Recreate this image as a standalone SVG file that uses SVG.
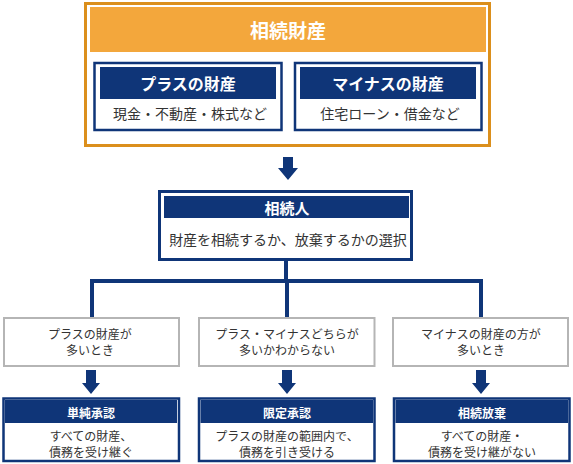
<svg xmlns="http://www.w3.org/2000/svg" width="573" height="464" viewBox="0 0 573 464">
<style>
text{font-family:"Noto Sans CJK JP","Noto Sans",sans-serif;text-anchor:middle;dominant-baseline:central}
.hd{fill:#ffffff;font-weight:bold}
.bd{fill:#333333}
.navybox{fill:#ffffff;stroke:#0f3578;stroke-width:2.5}
.navyhead{fill:#0f3578}
.gray{fill:#ffffff;stroke:#b5b5b5;stroke-width:2}
.line{fill:none;stroke:#0f3578;stroke-width:4}
.arrow{fill:#0f3578}
</style>
<rect width="573" height="464" fill="#ffffff"/>
<g id="inheritance">
<rect x="85.5" y="3.5" width="404" height="142" fill="#ffffff" stroke="#db8f1c" stroke-width="3"/>
<rect x="90" y="7" width="396" height="45" fill="#f3a73c"/>
<text x="288" y="29.5" class="hd" font-size="19">相続財産</text>
</g>
<g id="plus">
<rect x="94.5" y="63" width="187" height="67" class="navybox"/>
<rect x="100" y="67" width="176" height="32" class="navyhead"/>
<text x="188" y="83" class="hd" font-size="16">プラスの財産</text>
<text x="190" y="113" class="bd" font-size="14">現金・不動産・株式など</text>
</g>
<g id="minus">
<rect x="295" y="63" width="186.5" height="67" class="navybox"/>
<rect x="300" y="67" width="176" height="32" class="navyhead"/>
<text x="388" y="83" class="hd" font-size="16">マイナスの財産</text>
<text x="390" y="113" class="bd" font-size="14">住宅ローン・借金など</text>
</g>
<g id="heir">
<rect x="159.5" y="191.5" width="252" height="68" fill="#ffffff" stroke="#0f3578" stroke-width="3"/>
<rect x="164" y="196" width="245" height="22" class="navyhead"/>
<text x="287" y="207.5" class="hd" font-size="15">相続人</text>
<text x="288" y="239" class="bd" font-size="14">財産を相続するか、放棄するかの選択</text>
</g>
<g id="cond1">
<rect x="4" y="318" width="175" height="48" class="gray"/>
<text x="90" y="333" class="bd" font-size="12">プラスの財産が</text>
<text x="90" y="349" class="bd" font-size="12">多いとき</text>
</g>
<g id="cond2">
<rect x="199" y="318" width="175.5" height="48" class="gray"/>
<text x="287" y="333" class="bd" font-size="12">プラス・マイナスどちらが</text>
<text x="287" y="349" class="bd" font-size="12">多いかわからない</text>
</g>
<g id="cond3">
<rect x="393" y="318" width="175" height="48" class="gray"/>
<text x="481" y="333" class="bd" font-size="12">マイナスの財産の方が</text>
<text x="481" y="349" class="bd" font-size="12">多いとき</text>
</g>
<g id="result1">
<rect x="3.5" y="398.5" width="175.5" height="62.5" class="navybox"/>
<rect x="5" y="400" width="172" height="23" class="navyhead"/>
<text x="91" y="412" class="hd" font-size="12">単純承認</text>
<text x="91" y="435.5" class="bd" font-size="12">すべての財産、</text>
<text x="91" y="451.5" class="bd" font-size="12">債務を受け継ぐ</text>
</g>
<g id="result2">
<rect x="199" y="398.5" width="175.5" height="62.5" class="navybox"/>
<rect x="200.5" y="400" width="172.5" height="23" class="navyhead"/>
<text x="287" y="412" class="hd" font-size="12">限定承認</text>
<text x="287" y="435.5" class="bd" font-size="12">プラスの財産の範囲内で、</text>
<text x="287" y="451.5" class="bd" font-size="12">債務を引き受ける</text>
</g>
<g id="result3">
<rect x="394" y="398.5" width="175.5" height="62.5" class="navybox"/>
<rect x="395.5" y="400" width="172.5" height="23" class="navyhead"/>
<text x="482" y="412" class="hd" font-size="12">相続放棄</text>
<text x="482" y="435.5" class="bd" font-size="12">すべての財産・</text>
<text x="482" y="451.5" class="bd" font-size="12">債務を受け継がない</text>
</g>
<g id="connectors">
<polygon class="arrow" points="283,157 293,157 293,168 298,168 288,180 278,168 283,168"/>
<path class="line" d="M286,260 V281 M92,281 H481 M92,279 V317 M287,281 V317 M481,279 V317"/>
<polygon class="arrow" points="86,370 96,370 96,383 100,383 91,394 82,383 86,383"/>
<polygon class="arrow" points="282,370 292,370 292,383 296,383 287,394 278,383 282,383"/>
<polygon class="arrow" points="476,370 486,370 486,383 490,383 481,394 472,383 476,383"/>
</g>
</svg>
